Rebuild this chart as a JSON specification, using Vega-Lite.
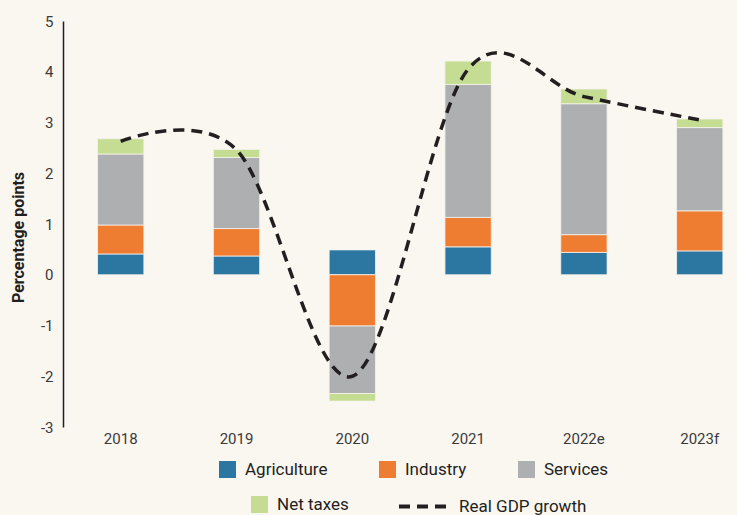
{
  "$schema": "https://vega.github.io/schema/vega-lite/v6.json",
  "width": 674,
  "height": 406,
  "autosize": "none",
  "padding": {"left": 63, "top": 21, "right": 0, "bottom": 88},
  "background": "#faf6f0",
  "config": {
    "view": {"stroke": null},
    "font": "Roboto",
    "axis": {"grid": false, "labelFont": "Roboto", "titleFont": "Roboto"},
    "legend": {
      "labelFont": "Roboto",
      "labelFontSize": 17,
      "labelColor": "#231f20",
      "symbolSize": 289,
      "symbolType": "square",
      "symbolStrokeWidth": 0,
      "labelOffset": 9,
      "columnPadding": 51,
      "title": null
    }
  },
  "datasets": {
    "contrib": [
      {"year": "2018", "cat": "Agriculture", "value": 0.41},
      {"year": "2018", "cat": "Industry", "value": 0.57},
      {"year": "2018", "cat": "Services", "value": 1.40},
      {"year": "2018", "cat": "Net taxes", "value": 0.30},
      {"year": "2019", "cat": "Agriculture", "value": 0.37},
      {"year": "2019", "cat": "Industry", "value": 0.54},
      {"year": "2019", "cat": "Services", "value": 1.40},
      {"year": "2019", "cat": "Net taxes", "value": 0.16},
      {"year": "2020", "cat": "Agriculture", "value": 0.49},
      {"year": "2020", "cat": "Industry", "value": -1.01},
      {"year": "2020", "cat": "Services", "value": -1.33},
      {"year": "2020", "cat": "Net taxes", "value": -0.15},
      {"year": "2021", "cat": "Agriculture", "value": 0.55},
      {"year": "2021", "cat": "Industry", "value": 0.58},
      {"year": "2021", "cat": "Services", "value": 2.62},
      {"year": "2021", "cat": "Net taxes", "value": 0.46},
      {"year": "2022e", "cat": "Agriculture", "value": 0.44},
      {"year": "2022e", "cat": "Industry", "value": 0.35},
      {"year": "2022e", "cat": "Services", "value": 2.58},
      {"year": "2022e", "cat": "Net taxes", "value": 0.29},
      {"year": "2023f", "cat": "Agriculture", "value": 0.47},
      {"year": "2023f", "cat": "Industry", "value": 0.79},
      {"year": "2023f", "cat": "Services", "value": 1.64},
      {"year": "2023f", "cat": "Net taxes", "value": 0.17}
    ],
    "gdp": [
      {"year": "2018", "gdp": 2.63},
      {"year": "2019", "gdp": 2.46},
      {"year": "2020", "gdp": -2.0},
      {"year": "2021", "gdp": 4.05},
      {"year": "2022e", "gdp": 3.51},
      {"year": "2023f", "gdp": 3.05}
    ]
  },
  "layer": [
    {
      "data": {"name": "contrib"},
      "transform": [
        {"stack": "value", "groupby": ["year"], "as": ["v0", "v1"]},
        {"filter": "datum.cat !== 'Net taxes'"}
      ],
      "mark": {"type": "bar", "stroke": "#f6f3ee", "strokeWidth": 0.8},
      "encoding": {
        "x": {
          "field": "year", "type": "nominal", "title": null,
          "scale": {"domain": ["2018", "2019", "2020", "2021", "2022e", "2023f"], "paddingInner": 0.6, "paddingOuter": 0.21, "align": 0.71},
          "axis": {"domain": false, "ticks": false, "labelAngle": 0, "labelFontSize": 15, "labelColor": "#3a3a3a", "labelPadding": 4}
        },
        "y": {
          "field": "v0", "type": "quantitative", "title": "Percentage points",
          "scale": {"domain": [-3, 5], "nice": false, "zero": false},
          "axis": {"values": [-3, -2, -1, 0, 1, 2, 3, 4, 5], "labelExpr": "'' + datum.value", "ticks": false, "tickSize": 0, "labelPadding": 10, "labelFontSize": 15, "labelColor": "#3a3a3a", "domainColor": "#231f20", "domainWidth": 1.5, "titleFontSize": 16, "titleFontWeight": "bold", "titleColor": "#231f20", "titleX": -45, "titleY": 216, "titleBaseline": "middle", "titleAlign": "center", "titleAngle": -90}
        },
        "y2": {"field": "v1"},
        "fill": {
          "field": "cat", "type": "nominal",
          "scale": {"domain": ["Agriculture", "Industry", "Services"], "range": ["#2c77a1", "#ee7d31", "#aeafb1"]},
          "legend": {"orient": "none", "legendX": 156, "legendY": 440, "direction": "horizontal", "columns": 3, "title": null}
        }
      }
    },
    {
      "data": {"name": "contrib"},
      "transform": [
        {"stack": "value", "groupby": ["year"], "as": ["v0", "v1"]},
        {"filter": "datum.cat === 'Net taxes'"}
      ],
      "mark": {"type": "bar", "stroke": "#f6f3ee", "strokeWidth": 0.8},
      "encoding": {
        "x": {
          "field": "year", "type": "nominal", "title": null,
          "scale": {"domain": ["2018", "2019", "2020", "2021", "2022e", "2023f"], "paddingInner": 0.6, "paddingOuter": 0.21, "align": 0.71},
          "axis": {"domain": false, "ticks": false, "labelAngle": 0, "labelFontSize": 15, "labelColor": "#3a3a3a", "labelPadding": 4}
        },
        "y": {
          "field": "v0", "type": "quantitative", "title": "Percentage points",
          "scale": {"domain": [-3, 5], "nice": false, "zero": false},
          "axis": {"values": [-3, -2, -1, 0, 1, 2, 3, 4, 5], "labelExpr": "'' + datum.value", "ticks": false, "tickSize": 0, "labelPadding": 10, "labelFontSize": 15, "labelColor": "#3a3a3a", "domainColor": "#231f20", "domainWidth": 1.5, "titleFontSize": 16, "titleFontWeight": "bold", "titleColor": "#231f20", "titleX": -45, "titleY": 216, "titleBaseline": "middle", "titleAlign": "center", "titleAngle": -90}
        },
        "y2": {"field": "v1"},
        "color": {
          "field": "cat", "type": "nominal",
          "scale": {"domain": ["Net taxes"], "range": ["#c5dd92"]},
          "legend": {"orient": "none", "legendX": 188, "legendY": 475, "direction": "horizontal", "title": null}
        }
      }
    },
    {
      "mark": {"type": "rule", "color": "#231f20", "strokeWidth": 1.5},
      "encoding": {"y": {"datum": 0}}
    },
    {
      "data": {"name": "gdp"},
      "mark": {"type": "line", "interpolate": "cardinal", "tension": 0, "strokeWidth": 3.5, "color": "#231f20"},
      "encoding": {
        "x": {
          "field": "year", "type": "nominal", "title": null,
          "scale": {"domain": ["2018", "2019", "2020", "2021", "2022e", "2023f"], "paddingInner": 0.6, "paddingOuter": 0.21, "align": 0.71},
          "axis": {"domain": false, "ticks": false, "labelAngle": 0, "labelFontSize": 15, "labelColor": "#3a3a3a", "labelPadding": 4}
        },
        "y": {
          "field": "gdp", "type": "quantitative", "title": "Percentage points",
          "scale": {"domain": [-3, 5], "nice": false, "zero": false},
          "axis": {"values": [-3, -2, -1, 0, 1, 2, 3, 4, 5], "labelExpr": "'' + datum.value", "ticks": false, "tickSize": 0, "labelPadding": 10, "labelFontSize": 15, "labelColor": "#3a3a3a", "domainColor": "#231f20", "domainWidth": 1.5, "titleFontSize": 16, "titleFontWeight": "bold", "titleColor": "#231f20", "titleX": -45, "titleY": 216, "titleBaseline": "middle", "titleAlign": "center", "titleAngle": -90}
        },
        "strokeDash": {
          "datum": "Real GDP growth",
          "scale": {"domain": ["Real GDP growth"], "range": [[11, 7]]},
          "legend": {"orient": "none", "legendX": 334, "legendY": 459, "direction": "horizontal", "title": null, "symbolType": "stroke", "symbolSize": 2401, "symbolStrokeWidth": 4, "symbolStrokeColor": "#231f20"}
        }
      }
    }
  ]
}
